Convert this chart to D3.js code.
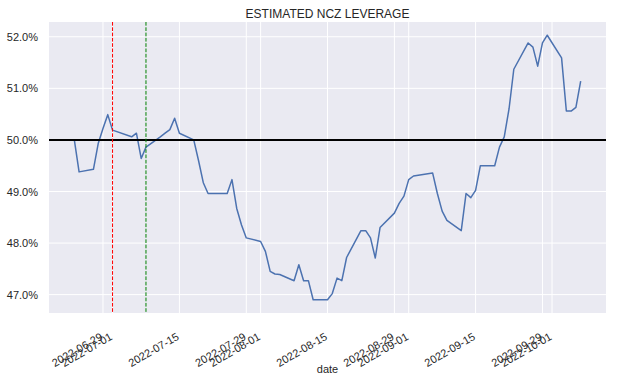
<!DOCTYPE html>
<html>
<head>
<meta charset="utf-8">
<script src="https://cdn.jsdelivr.net/npm/d3@7"></script>
<style>
  body { margin: 0; background: #fff; }
  text { font-family: "Liberation Sans", Arial, sans-serif; fill: #262626; }
</style>
</head>
<body>
<div class="chart"></div>
<script>
var width = 619
  , height = 382
  , margin = { top: 22, right: 13, bottom: 69, left: 49 }
  ;

var dates = [
  "2022-06-23", "2022-06-24", "2022-06-27", "2022-06-28", "2022-06-29", "2022-06-30",
  "2022-07-01", "2022-07-05", "2022-07-06", "2022-07-07", "2022-07-08", "2022-07-11",
  "2022-07-12", "2022-07-13", "2022-07-14", "2022-07-15", "2022-07-18", "2022-07-19",
  "2022-07-20", "2022-07-21", "2022-07-22", "2022-07-25", "2022-07-26", "2022-07-27",
  "2022-07-28", "2022-07-29", "2022-08-01", "2022-08-02", "2022-08-03", "2022-08-04",
  "2022-08-05", "2022-08-08", "2022-08-09", "2022-08-10", "2022-08-11", "2022-08-12",
  "2022-08-15", "2022-08-16", "2022-08-17", "2022-08-18", "2022-08-19", "2022-08-22",
  "2022-08-23", "2022-08-24", "2022-08-25", "2022-08-26", "2022-08-29", "2022-08-30",
  "2022-08-31", "2022-09-01", "2022-09-02", "2022-09-06", "2022-09-07", "2022-09-08",
  "2022-09-09", "2022-09-12", "2022-09-13", "2022-09-14", "2022-09-15", "2022-09-16",
  "2022-09-19", "2022-09-20", "2022-09-21", "2022-09-22", "2022-09-23", "2022-09-26",
  "2022-09-27", "2022-09-28", "2022-09-29", "2022-09-30", "2022-10-03", "2022-10-04",
  "2022-10-05", "2022-10-06", "2022-10-07"
];

// leverage, in percent
var leverage = [
  50.00, 49.38, 49.43, 49.93, 50.22, 50.49,
  50.19, 50.06, 50.13, 49.64, 49.86, 50.06,
  50.13, 50.20, 50.42, 50.13, 50.00, 49.60,
  49.17, 48.96, 48.96, 48.96, 49.23, 48.67,
  48.35, 48.10, 48.03, 47.84, 47.45, 47.40,
  47.39, 47.27, 47.58, 47.27, 47.27, 46.90,
  46.90, 47.02, 47.32, 47.27, 47.72, 48.24,
  48.24, 48.10, 47.71, 48.30, 48.58, 48.77,
  48.91, 49.23, 49.30, 49.36, 48.96, 48.62,
  48.44, 48.24, 48.96, 48.88, 49.02, 49.50,
  49.50, 49.86, 50.06, 50.60, 51.37, 51.88,
  51.80, 51.43, 51.88, 52.03, 51.59, 50.56,
  50.56, 50.63, 51.14
];

var xTickDates = [
  "2022-06-29", "2022-07-01", "2022-07-15", "2022-07-29", "2022-08-01", "2022-08-15",
  "2022-08-29", "2022-09-01", "2022-09-15", "2022-09-29", "2022-10-01"
];
var yTicks = [47, 48, 49, 50, 51, 52];

var hLine = 50;
var vLines = [
  { date: "2022-07-01", color: "#ff0000" }
, { date: "2022-07-08", color: "#008000" }
];

var parse = d3.timeParse("%Y-%m-%d")
  , fmt = d3.timeFormat("%Y-%m-%d")
  ;

var data = dates.map(function(d, i) {
  return { date: parse(d), value: leverage[i] };
});

drawChart();

function padded(ext) {
  var span = ext[1] - ext[0];
  return [ext[0] - span * 0.05, ext[1] + span * 0.05];
}

function drawChart() {
  var innerW = width - margin.left - margin.right
    , innerH = height - margin.top - margin.bottom
    ;

  var svg = d3.select(".chart").append("svg")
    .attr("width", width)
    .attr("height", height);

  var xExt = padded(d3.extent(data, function(d) { return +d.date; }));
  var x = d3.scaleTime()
    .domain([new Date(xExt[0]), new Date(xExt[1])])
    .range([margin.left, margin.left + innerW]);

  var y = d3.scaleLinear()
    .domain(padded(d3.extent(data, function(d) { return d.value; })))
    .range([margin.top + innerH, margin.top]);

  svg.append("rect")
    .attr("x", margin.left)
    .attr("y", margin.top)
    .attr("width", innerW)
    .attr("height", innerH)
    .attr("fill", "#eaeaf2");

  // grid
  var xTicks = xTickDates.map(parse);
  svg.append("g").selectAll("line")
    .data(xTicks)
    .enter().append("line")
      .attr("x1", function(d) { return x(d); })
      .attr("x2", function(d) { return x(d); })
      .attr("y1", margin.top)
      .attr("y2", margin.top + innerH)
      .attr("stroke", "#fff")
      .attr("stroke-width", 1);

  svg.append("g").selectAll("line")
    .data(yTicks)
    .enter().append("line")
      .attr("x1", margin.left)
      .attr("x2", margin.left + innerW)
      .attr("y1", function(d) { return y(d); })
      .attr("y2", function(d) { return y(d); })
      .attr("stroke", "#fff")
      .attr("stroke-width", 1);

  // axes
  var yAxis = d3.axisLeft(y)
    .tickValues(yTicks)
    .tickSize(0)
    .tickPadding(11)
    .tickFormat(function(d) { return d3.format(".1f")(d) + "%"; });
  var gy = svg.append("g")
    .attr("transform", "translate(" + margin.left + ",0)")
    .call(yAxis);
  gy.select(".domain").remove();
  gy.selectAll("text")
    .attr("font-size", 11)
    .attr("fill", "#262626")
    .style("font-family", "'Liberation Sans', Arial, sans-serif");

  var xAxis = d3.axisBottom(x)
    .tickValues(xTicks)
    .tickSize(0)
    .tickFormat(fmt);
  var gx = svg.append("g")
    .attr("transform", "translate(0," + (margin.top + innerH) + ")")
    .call(xAxis);
  gx.select(".domain").remove();
  gx.selectAll("text")
    .attr("font-size", 11)
    .attr("fill", "#262626")
    .style("font-family", "'Liberation Sans', Arial, sans-serif")
    .attr("text-anchor", "end")
    .attr("x", 0)
    .attr("y", 0)
    .attr("dy", 0)
    .attr("transform", "translate(0,26)rotate(-30)");

  // series
  var line = d3.line()
    .x(function(d) { return x(d.date); })
    .y(function(d) { return y(d.value); });

  svg.append("path")
    .datum(data)
    .attr("fill", "none")
    .attr("stroke", "#4c72b0")
    .attr("stroke-width", 1.5)
    .attr("stroke-linejoin", "round")
    .attr("d", line);

  svg.append("line")
    .attr("x1", margin.left)
    .attr("x2", margin.left + innerW)
    .attr("y1", y(hLine))
    .attr("y2", y(hLine))
    .attr("stroke", "#000")
    .attr("stroke-width", 2);

  svg.append("g").selectAll("line")
    .data(vLines)
    .enter().append("line")
      .attr("x1", function(d) { return x(parse(d.date)); })
      .attr("x2", function(d) { return x(parse(d.date)); })
      .attr("y1", margin.top)
      .attr("y2", margin.top + innerH)
      .attr("stroke", function(d) { return d.color; })
      .attr("stroke-width", 1)
      .attr("stroke-dasharray", "3.7,1.6");

  svg.append("text")
    .attr("x", margin.left + innerW / 2)
    .attr("y", 17.5)
    .attr("text-anchor", "middle")
    .attr("font-size", 12)
    .text("ESTIMATED NCZ LEVERAGE");

  svg.append("text")
    .attr("x", margin.left + innerW / 2)
    .attr("y", 373)
    .attr("text-anchor", "middle")
    .attr("font-size", 11)
    .text("date");
}
</script>
</body>
</html>
